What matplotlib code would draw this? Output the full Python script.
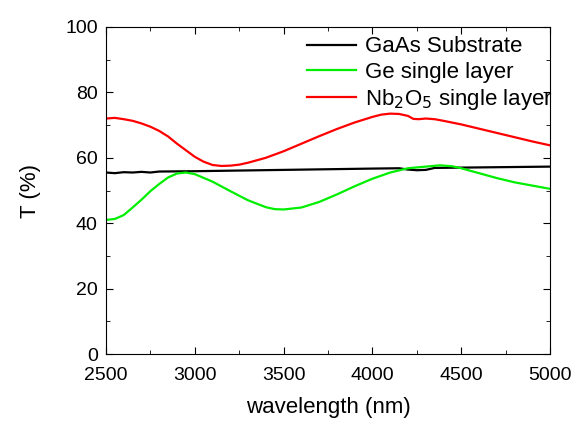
import matplotlib
matplotlib.use("Agg")
import matplotlib.pyplot as plt
from matplotlib.ticker import MultipleLocator

plt.rcParams['font.family'] = ['Liberation Sans', 'DejaVu Sans']

# transmission spectra
red_x = [2500, 2550, 2600, 2650, 2700, 2750, 2800, 2850, 2900, 2950, 3000, 3050,
         3100, 3150, 3200, 3250, 3300, 3400, 3500, 3600, 3700, 3800, 3900, 4000,
         4050, 4100, 4150, 4200, 4230, 4260, 4300, 4350, 4400, 4500, 4600, 4700,
         4800, 4900, 5000]
red_y = [72.0, 72.2, 71.8, 71.3, 70.5, 69.5, 68.2, 66.5, 64.3, 62.3, 60.3, 58.8,
         57.8, 57.5, 57.6, 57.9, 58.5, 60.0, 62.0, 64.3, 66.6, 68.8, 70.8, 72.5,
         73.2, 73.5, 73.4, 72.8, 71.9, 71.8, 72.0, 71.8, 71.3, 70.2, 68.9, 67.6,
         66.3, 65.0, 63.8]

green_x = [2500, 2550, 2600, 2650, 2700, 2750, 2800, 2850, 2900, 2950, 3000, 3100,
           3200, 3300, 3400, 3450, 3500, 3600, 3700, 3800, 3900, 4000, 4100, 4200,
           4300, 4380, 4450, 4500, 4600, 4700, 4800, 4900, 5000]
green_y = [41.0, 41.3, 42.5, 44.8, 47.2, 49.8, 52.0, 54.0, 55.2, 55.5, 55.0, 52.7,
           49.8, 47.0, 44.9, 44.3, 44.2, 44.8, 46.5, 48.8, 51.3, 53.6, 55.5, 56.8,
           57.3, 57.7, 57.4, 56.8, 55.3, 53.8, 52.5, 51.5, 50.5]

black_x = [2500, 2550, 2600, 2650, 2700, 2750, 2800, 3000, 3500, 4000, 4150, 4200,
           4250, 4300, 4350, 4500, 5000]
black_y = [55.5, 55.3, 55.6, 55.5, 55.7, 55.5, 55.8, 55.9, 56.3, 56.7, 56.8, 56.4,
           56.2, 56.3, 56.9, 57.0, 57.3]

fig = plt.figure(figsize=(5.76, 4.21), dpi=100)
ax = fig.add_axes([0.184, 0.159, 0.771, 0.777])

ax.plot(black_x, black_y, color='black', lw=1.6, label='GaAs Substrate')
ax.plot(green_x, green_y, color='#00ee00', lw=1.6, label='Ge single layer')
ax.plot(red_x, red_y, color='red', lw=1.6, label='Nb$_2$O$_5$ single layer')

ax.set_xlim(2500, 5000)
ax.set_ylim(0, 100)
ax.xaxis.set_major_locator(MultipleLocator(500))
ax.xaxis.set_minor_locator(MultipleLocator(250))
ax.yaxis.set_major_locator(MultipleLocator(20))
ax.yaxis.set_minor_locator(MultipleLocator(10))
ax.tick_params(which='both', direction='in', top=True, right=True, labelsize=14)
ax.tick_params(which='major', length=5)
ax.tick_params(axis='x', which='major', pad=9)
ax.tick_params(axis='y', which='major', pad=6)
ax.tick_params(which='minor', length=3)

ax.set_xlabel('wavelength (nm)', fontsize=16, labelpad=10)
ax.set_ylabel('T (%)', fontsize=16, labelpad=17)

ax.legend(loc='upper right', bbox_to_anchor=(1.015, 0.985), frameon=False,
          fontsize=16, handlelength=2.2, borderaxespad=0.0, borderpad=0.2,
          labelspacing=0.2, handletextpad=0.4)

fig.savefig('out.png', dpi=100)
